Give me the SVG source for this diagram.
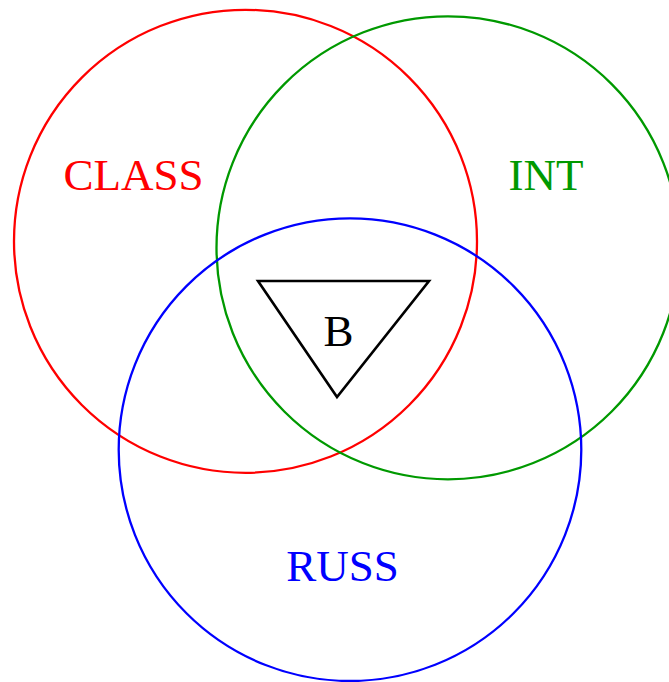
<svg xmlns="http://www.w3.org/2000/svg" width="669" height="682" viewBox="0 0 669 682">
<style>
.c{fill:none;stroke-width:2.3}
.t{font-family:"Liberation Serif","Times New Roman",serif;font-size:45px;text-anchor:middle}
</style>
<rect width="669" height="682" fill="#fff"/>
<g id="class">
<circle class="c" cx="245.5" cy="241.3" r="231.5" stroke="#ff0000"/>
<text class="t" x="133.5" y="190" fill="#ff0000">CLASS</text>
</g>
<g id="int">
<circle class="c" cx="448" cy="247.8" r="231.5" stroke="#009900"/>
<text class="t" x="546" y="190" fill="#009900">INT</text>
</g>
<g id="russ">
<circle class="c" cx="350" cy="449.7" r="231.3" stroke="#0000ff"/>
<text class="t" x="342.5" y="581" fill="#0000ff">RUSS</text>
</g>
<g id="b">
<polygon points="258,281 429,281 337,397" fill="none" stroke="#000" stroke-width="2.6"/>
<text class="t" x="338.5" y="346" fill="#000">B</text>
</g>
<g id="connectors"/>
</svg>
